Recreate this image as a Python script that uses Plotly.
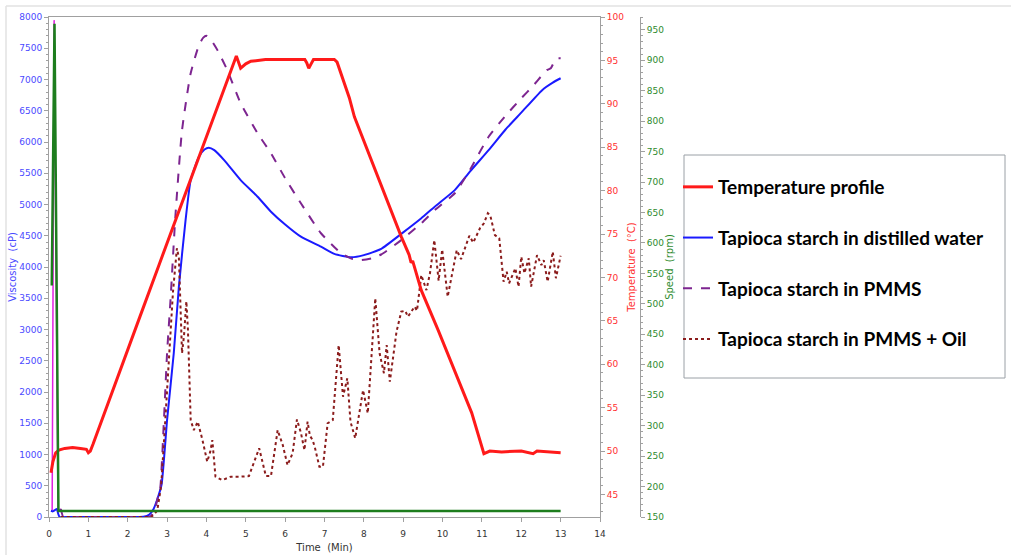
import plotly.graph_objects as go

# ---------------- data ----------------
temp_t = [0.05, 0.1, 0.17, 0.25, 0.4, 0.6, 0.8, 0.95, 1.0, 1.05, 1.12, 1.2, 1.5, 2.0, 2.32, 2.8,
          3.21, 3.85, 4.3, 4.76, 4.87, 5.0, 5.13, 5.5, 6.0, 6.5, 6.55, 6.6, 6.66, 6.72, 7.0, 7.25,
          7.32, 7.47, 7.63, 7.76, 8.19, 8.61, 8.95, 9.15, 9.2, 9.24, 9.3, 9.46, 9.89, 10.31, 10.74,
          11.05, 11.2, 11.5, 12.0, 12.3, 12.4, 13.0]
temp_v = [47.5, 48.8, 49.8, 50.1, 50.3, 50.4, 50.3, 50.2, 49.8, 50.0, 50.8, 51.8, 55.4, 61.6, 65.6, 71.5,
          76.5, 84.5, 89.9, 95.5, 94.1, 94.6, 94.9, 95.1, 95.1, 95.1, 94.7, 94.1, 94.6, 95.1, 95.1, 95.1,
          94.8, 92.7, 90.7, 88.5, 83.5, 78.5, 74.7, 72.6, 71.7, 71.9, 70.9, 68.5, 63.9, 59.3, 54.4,
          49.7, 50.0, 49.9, 50.0, 49.7, 50.0, 49.8]

speed_t = [0.07, 0.14, 0.24, 0.3, 13.0]
speed_v = [530, 960, 160, 160, 160]

water_t = [0.05, 0.1, 0.15, 0.2, 0.23, 0.27, 0.5, 1.0, 1.5, 2.0, 2.4, 2.55, 2.65, 2.75, 2.86, 3.0,
           3.17, 3.3, 3.47, 3.6, 3.81, 3.95, 4.06, 4.2, 4.45, 4.87, 5.3, 5.64, 6.0, 6.4, 6.91, 7.25,
           7.68, 8.0, 8.44, 8.95, 9.46, 9.8, 10.31, 10.7, 11.17, 11.6, 12.0, 12.53, 12.8, 13.0]
water_v = [100, 90, 110, 130, 60, 0, 0, 0, 0, 0, 5, 40, 120, 280, 520, 1550,
           2620, 3685, 4750, 5390, 5765, 5880, 5910, 5870, 5710, 5390, 5125, 4885, 4680, 4485, 4325, 4210,
           4155, 4190, 4290, 4530, 4780, 4965, 5230, 5530, 5870, 6200, 6470, 6830, 6950, 7020]

pmms_t = [0.3, 0.36, 0.4, 1.0, 2.0, 2.5, 2.6, 2.7, 2.78, 2.83, 2.92, 3.0, 3.09, 3.21, 3.38, 3.6,
          3.81, 3.92, 4.0, 4.1, 4.28, 4.53, 4.87, 5.3, 5.64, 6.0, 6.4, 6.91, 7.42, 7.7, 7.93, 8.2,
          8.44, 8.95, 9.46, 9.8, 10.31, 10.7, 11.17, 11.6, 12.0, 12.3, 12.53, 12.65, 12.75, 12.85,
          12.92, 13.0]
pmms_v = [130, 0, 0, 0, 0, 0, 20, 150, 350, 485, 1550, 2620, 3500, 4800, 6190, 7100,
          7550, 7670, 7700, 7650, 7470, 7150, 6620, 6140, 5820, 5420, 5020, 4540, 4220, 4130, 4110, 4140,
          4200, 4430, 4700, 4910, 5180, 5560, 6085, 6420, 6700, 6900, 7070, 7150, 7180, 7300,
          7340, 7340]

# initial start-up spike of the PMMS run (drawn solid magenta in the original)
spike_t = [0.08, 0.13, 0.23, 0.3]
spike_v = [100, 7950, 100, 130]

oil_t = [0.3, 1.0, 2.0, 2.6, 2.75, 2.85, 2.95, 3.05, 3.15, 3.25, 3.3, 3.38, 3.43, 3.49, 3.53, 3.6,
         3.68, 3.78, 3.9, 4.02, 4.1, 4.15, 4.23, 4.4, 4.62, 4.87, 5.08, 5.34, 5.51, 5.64, 5.81, 5.94,
         6.06, 6.19, 6.3, 6.4, 6.49, 6.57, 6.63, 6.7, 6.76, 6.87, 6.96, 7.08, 7.21, 7.36, 7.47, 7.58,
         7.66, 7.78, 7.98, 8.1, 8.29, 8.4, 8.51, 8.58, 8.66, 8.83, 8.95, 9.05, 9.12, 9.29, 9.35, 9.46,
         9.59, 9.68, 9.79, 9.9, 9.99, 10.13, 10.36, 10.47, 10.68, 10.78, 10.95, 11.05, 11.15, 11.21,
         11.33, 11.44, 11.55, 11.63, 11.69, 11.85, 11.93, 12.0, 12.08, 12.19, 12.25, 12.4, 12.51,
         12.57, 12.67, 12.8, 12.88, 13.0]
oil_v = [0, 0, 0, 0, 100, 500, 1500, 2600, 3600, 4300, 4150, 2620, 2900, 3450, 3000, 1550,
         1390, 1525, 1230, 885, 1050, 1230, 645, 590, 645, 645, 655, 1100, 655, 655, 1390, 1150,
         830, 1020, 1560, 1350, 1070, 1525, 1300, 1230, 1100, 805, 805, 1500, 1550, 2750, 1925, 2220,
         1525, 1260, 2030, 1660, 3500, 2620, 2300, 2750, 2165, 2965, 3285, 3300, 3205, 3365, 3300, 3870,
         3630, 3900, 4430, 3780, 4280, 3525, 4270, 4125, 4500, 4390, 4620, 4700, 4860, 4830,
         4510, 4460, 3765, 3925, 3740, 3980, 3685, 4165, 3900, 4140, 3685, 4190, 4030,
         4110, 3765, 4245, 3820, 4180]

x_ticks = list(range(0, 15))
visc_ticks = list(range(0, 8001, 500))
temp_ticks = list(range(45, 101, 5))
speed_ticks = list(range(150, 951, 50))

# ---------------- figure ----------------
W, H = 1011, 555
ML, MR, MT, MB = 49, 11, 17, 38
paper_w = W - ML - MR
paper_h = H - MT - MB
plot_right = 600
speed_axis_px = 640

def px_x(px):
    return (px - ML) / paper_w

def px_y(py):
    return (H - MB - py) / paper_h

BLUE = "#1a1aff"
RED = "#ff1a1a"
PURPLE = "#7d2590"
BROWN = "#8b1c1c"
GREEN = "#1d7d1d"
TICKFONT = "DejaVu Sans"

fig = go.Figure()

fig.add_trace(go.Scatter(x=speed_t, y=speed_v, yaxis="y3", mode="lines",
                         line=dict(color=GREEN, width=2.5), showlegend=False, hoverinfo="skip"))
fig.add_trace(go.Scatter(x=spike_t, y=spike_v, mode="lines",
                         line=dict(color="#e020e0", width=1.5), showlegend=False, hoverinfo="skip"))
fig.add_trace(go.Scatter(x=temp_t, y=temp_v, yaxis="y2", mode="lines", name="Temperature profile",
                         legendgroup="a", line=dict(color=RED, width=3)))
fig.add_trace(go.Scatter(x=water_t, y=water_v, mode="lines", name="Tapioca starch in distilled water",
                         legendgroup="b", line=dict(color=BLUE, width=2, shape="spline", smoothing=0.5)))
fig.add_trace(go.Scatter(x=pmms_t, y=pmms_v, mode="lines", name="Tapioca starch in PMMS",
                         legendgroup="c", line=dict(color=PURPLE, width=2, dash="dash",
                                                    shape="spline", smoothing=0.5)))
fig.add_trace(go.Scatter(x=oil_t, y=oil_v, mode="lines", name="Tapioca starch in PMMS + Oil",
                         legendgroup="d", line=dict(color=BROWN, width=2, dash="dot")))

axis_gray = "#a0a0a0"

fig.update_layout(
    width=W, height=H,
    margin=dict(l=ML, r=MR, t=MT, b=MB, pad=0, autoexpand=False),
    paper_bgcolor="white", plot_bgcolor="white",
    xaxis=dict(domain=[0, px_x(plot_right)], range=[0, 14], tickvals=x_ticks,
               showgrid=False, zeroline=False, showline=True, linecolor=axis_gray, linewidth=1,
               mirror=True, ticks="outside", ticklen=4, tickcolor=axis_gray, ticklabelstandoff=4,
               tickfont=dict(family=TICKFONT, size=9, color="#333333"),
               title=dict(text="Time  (Min)", font=dict(family=TICKFONT, size=10, color="#333333"),
                          standoff=6)),
    yaxis=dict(range=[0, 8000], tickvals=visc_ticks, showgrid=False, zeroline=False,
               showline=True, linecolor=axis_gray, linewidth=1, mirror=True,
               ticks="outside", ticklen=4, tickcolor=axis_gray,
               minor=dict(dtick=100, ticklen=2, tickcolor=axis_gray, ticks="outside"),
               tickfont=dict(family=TICKFONT, size=9, color="#4a4aff"),
               title=dict(text="Viscosity  (cP)", font=dict(family=TICKFONT, size=10, color="#4a4aff"),
                          standoff=0)),
    yaxis2=dict(overlaying="y", side="right", anchor="x", range=[42.4, 100], tickvals=temp_ticks,
                showgrid=False, zeroline=False, showline=True, linecolor=axis_gray, linewidth=1,
                ticks="outside", ticklen=4, tickcolor=axis_gray,
                minor=dict(dtick=1, ticklen=2, tickcolor=axis_gray, ticks="outside"),
                tickfont=dict(family=TICKFONT, size=9, color="#ff3030"),
                title=dict(text="Temperature  (°C)", font=dict(family=TICKFONT, size=10, color="#ff3030"),
                           standoff=4)),
    yaxis3=dict(overlaying="y", side="right", anchor="free", position=px_x(speed_axis_px),
                range=[150, 971], tickvals=speed_ticks,
                showgrid=False, zeroline=False, showline=True, linecolor=axis_gray, linewidth=1,
                ticks="outside", ticklen=4, tickcolor=axis_gray,
                minor=dict(dtick=10, ticklen=2, tickcolor=axis_gray, ticks="outside"),
                tickfont=dict(family=TICKFONT, size=9, color="#2e8b2e"),
                title=dict(text="Speed  (rpm)", font=dict(family=TICKFONT, size=10, color="#2e8b2e"),
                           standoff=0)),
    legend=dict(x=px_x(678), y=px_y(168), xanchor="left", yanchor="top",
                bgcolor="rgba(0,0,0,0)", borderwidth=0, tracegroupgap=23, itemwidth=30,
                font=dict(family="Lato", size=19, color="black", weight="bold")),
    shapes=[
        dict(type="rect", xref="paper", yref="paper", x0=px_x(684), x1=px_x(1005),
             y0=px_y(378), y1=px_y(155), line=dict(color="#9aa0a6", width=1), layer="below"),
        dict(type="line", xref="paper", yref="paper", x0=px_x(6), x1=px_x(1011),
             y0=px_y(6), y1=px_y(6), line=dict(color="#e2e2e2", width=1.5)),
        dict(type="line", xref="paper", yref="paper", x0=px_x(6), x1=px_x(6),
             y0=px_y(555), y1=px_y(6), line=dict(color="#e2e2e2", width=1.5)),
    ],
)

fig.write_html("out.html")
